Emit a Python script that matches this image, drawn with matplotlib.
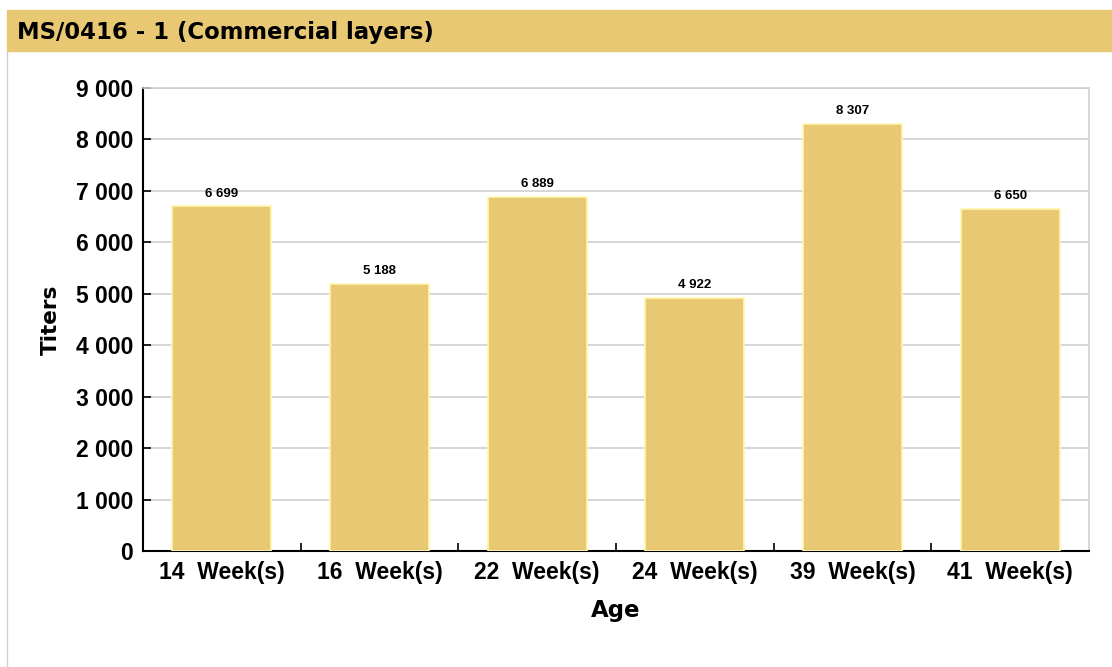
import matplotlib
matplotlib.use("Agg")
import matplotlib.pyplot as plt
from matplotlib.ticker import FuncFormatter
import matplotlib.patches as mpatches
import matplotlib.lines as mlines

TITLE = "MS/0416 - 1 (Commercial layers)"
AGES = ["14  Week(s)", "16  Week(s)", "22  Week(s)", "24  Week(s)", "39  Week(s)", "41  Week(s)"]
TITERS = [6699, 5188, 6889, 4922, 8307, 6650]
Y_TICKS = [0, 1000, 2000, 3000, 4000, 5000, 6000, 7000, 8000, 9000]

BAR_COLOR = "#E9C874"
EDGE_COLOR = "#FFF6B0"
HEADER_COLOR = "#E9C874"

plt.rcParams["font.family"] = ["Liberation Sans", "DejaVu Sans"]
WIDE = ["DejaVu Sans", "Liberation Sans"]


def space_thousands(v, pos=None):
    return f"{int(v):,}".replace(",", " ")


fig = plt.figure(figsize=(11.12, 6.67), dpi=100)

# header band and left frame line
fig.patches.append(mpatches.Rectangle((7 / 1112, 1 - 51 / 667), 1, 41 / 667,
                                      transform=fig.transFigure, color=HEADER_COLOR, zorder=0))
fig.lines.append(mlines.Line2D([7 / 1112, 7 / 1112], [0, 1 - 51 / 667], transform=fig.transFigure,
                               color="#D0D0D0", lw=1))
fig.text(17 / 1112, 1 - 32 / 667, TITLE, fontsize=16.4, fontweight="bold", va="center", ha="left",
         family=WIDE)

ax = fig.add_axes([143 / 1112, 1 - 551 / 667, (1089 - 143) / 1112, (551 - 88) / 667])

x = list(range(len(AGES)))
bars = ax.bar(x, TITERS, width=0.63, color=BAR_COLOR, edgecolor=EDGE_COLOR, linewidth=1.2, zorder=3)
for b, v in zip(bars, TITERS):
    ax.text(b.get_x() + b.get_width() / 2, v + 130, space_thousands(v), ha="center", va="bottom",
            fontsize=9.5, fontweight="bold", zorder=4)

ax.set_xlim(-0.5, len(AGES) - 0.5)
ax.set_ylim(0, 9000)
ax.set_yticks(Y_TICKS)
ax.yaxis.set_major_formatter(FuncFormatter(space_thousands))
ax.set_xticks(x)
ax.set_xticklabels(AGES)
ax.set_xticks([i + 0.5 for i in x[:-1]], minor=True)
ax.tick_params(axis="x", which="major", length=0, pad=7, labelsize=16.5)
ax.tick_params(axis="x", which="minor", length=6, width=1.2, direction="in")
ax.tick_params(axis="y", length=6, width=1.2, direction="in", pad=7, labelsize=16.5)
for lab in ax.get_xticklabels() + ax.get_yticklabels():
    lab.set_fontweight("bold")

ax.grid(axis="y", color="#CFCFCF", lw=1.2, zorder=0)
ax.spines["left"].set_color("black")
ax.spines["bottom"].set_color("black")
ax.spines["left"].set_linewidth(1.5)
ax.spines["bottom"].set_linewidth(1.5)
ax.spines["top"].set_color("#CFCFCF")
ax.spines["right"].set_color("#CFCFCF")
ax.spines["top"].set_linewidth(1.2)
ax.spines["right"].set_linewidth(1.2)

ax.set_ylabel("Titers", fontsize=15.5, fontweight="bold", labelpad=11, family=WIDE)
ax.set_xlabel("Age", fontsize=16.5, fontweight="bold", labelpad=11, family=WIDE)

fig.savefig("out.png", dpi=100)
